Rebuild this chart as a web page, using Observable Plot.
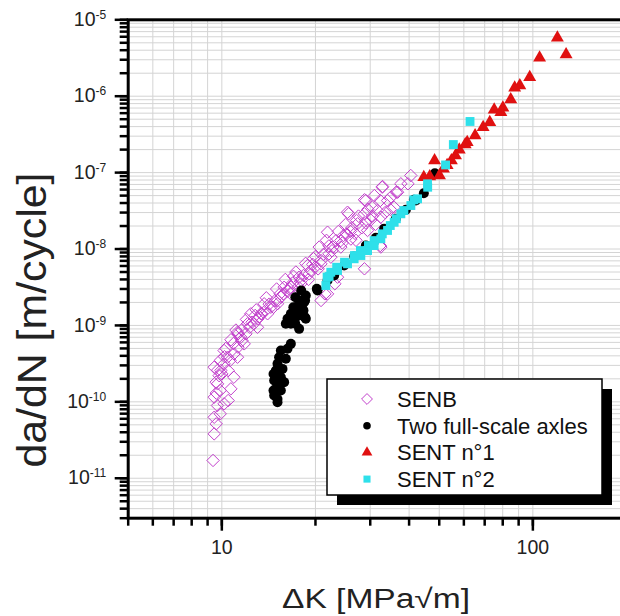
<!DOCTYPE html>
<html>
<head>
<meta charset="utf-8">
<script src="https://cdn.jsdelivr.net/npm/d3@7"></script>
<script src="https://cdn.jsdelivr.net/npm/@observablehq/plot@0.6"></script>
<style>
  html, body { margin: 0; padding: 0; background: #fff; }
  #chart { width: 620px; height: 616px; overflow: hidden; }
  svg { font-family: "Liberation Sans", Arial, sans-serif; }
</style>
</head>
<body>
<div id="chart"></div>
<script>
// ---- Data (ΔK in MPa√m, da/dN in m/cycle) ----
const senbK = [9.37,9.45,9.59,9.45,9.88,9.68,10.17,10.48,9.45,9.88,9.59,10.0,10.48,10.17,10.63,10.94,11.27,11.60,11.27,11.95,12.30,12.67,13.05,13.44,13.83,14.66,15.10,15.78,16.48,18.0,19.08,19.94,20.84,22.10,22.75,24.12,25.19,25.56,27.11,28.74,30.47,32.31,28.74,32.31,20.84,21.45,23.09,40.50,39.67,36.36,32.79,30.93,28.74,37.64,32.86,29.04,25.36,21.87,20.56,18.86,17.72,15.86,13.68,12.39,11.23,10.17,9.45,36.73,35.81,32.45,32.45,23.55,21.87,16.67,15.10,14.03,13.02,11.80,11.23,10.93,10.69,25.9,27.31,29.41,31.67,34.10,24.13,22.42,20.82,19.33,17.95,16.67,15.48,14.37,13.35,12.09,11.51,10.43,9.93,9.69,27.0,30.1,26.2,23.3,22.1,20.0,18.6,17.3,16.0,15.0,13.9,12.9,12.0,11.1,10.7,10.3,9.9,9.8,34.8,29.5,26.8,24.6,19.7,17.0,
  12.5,13.2,14.2,14.8,15.4,16.3,16.9,17.6,18.3,19.0,19.6,20.4,21.2,21.7,22.6,23.7,24.4,25.0,26.0,27.5,28.2,29.0,30.5,31.2,33.5,35.0,11.6,12.8,10.9,10.2,9.7,9.6];
const senbRate = [1.71e-11,3.81e-11,5.15e-11,6.28e-11,6.97e-11,8.95e-11,9.42e-11,1.04e-10,1.15e-10,1.41e-10,1.81e-10,2.32e-10,2.57e-10,3.14e-10,3.48e-10,4.25e-10,5.19e-10,6.34e-10,7.76e-10,7.76e-10,9.46e-10,1.05e-9,1.22e-9,1.42e-9,1.57e-9,1.73e-9,2.12e-9,2.59e-9,3.01e-9,3.87e-9,4.73e-9,5.78e-9,7.07e-9,8.65e-9,1.06e-8,1.29e-8,1.58e-8,2.89e-8,2.36e-8,2.89e-8,3.52e-8,4.31e-8,5.51e-9,1.11e-8,2.12e-9,2.59e-9,3.51e-9,9.17e-8,7.14e-8,5.54e-8,6.44e-8,5.01e-8,4.41e-8,7.14e-8,6.58e-8,4.31e-8,3.03e-8,1.66e-8,1.06e-8,6.08e-9,4.28e-9,3.16e-9,1.92e-9,1.42e-9,8.15e-10,4.69e-10,2.84e-10,5.54e-8,3.52e-8,2.61e-8,1.06e-8,4.28e-9,2.59e-9,2.59e-9,1.92e-9,1.42e-9,9.46e-10,5.74e-10,3.84e-10,2.10e-10,1.48e-10,1.7e-8,2.14e-8,1.75e-8,3.19e-8,4.31e-8,1.06e-8,7.82e-9,6.40e-9,5.24e-9,3.51e-9,3.16e-9,2.34e-9,1.73e-9,1.42e-9,1.05e-9,7.02e-10,3.84e-10,2.57e-10,1.72e-10,1.3e-8,2.4e-8,1.9e-8,1.29e-8,1.1e-8,8.0e-9,6.5e-9,5.0e-9,4.0e-9,3.0e-9,2.3e-9,1.6e-9,1.2e-9,8.7e-10,6.5e-10,5.0e-10,3.5e-10,2.2e-10,3.3e-8,3.3e-8,1.6e-8,1.5e-8,7.5e-9,4.4e-9,
  1.1e-9,1.3e-9,1.9e-9,2.1e-9,2.6e-9,2.8e-9,3.6e-9,3.2e-9,4.5e-9,4.0e-9,6.3e-9,5.5e-9,8.5e-9,1.3e-8,9.5e-9,1.7e-8,1.2e-8,2.1e-8,1.35e-8,2.7e-8,1.9e-8,2.2e-8,2.7e-8,2.1e-8,3.0e-8,4.8e-8,8.8e-10,1.35e-9,5.8e-10,3.9e-10,2.6e-10,1.3e-10];

const axlesK = [48.4,44.61,41.44,42.06,39.06,36.27,33.25,31.27,29.04,26.63,24.73,22.97,21.87,20.31,20.2,18.62,18.39,17.72,17.30,18.17,16.67,17.51,18.62,16.26,17.08,17.72,16.06,16.67,18.0,17.23,18.52,16.98,18.3,16.7,17.73,16.26,17.23,18.52,16.67,16.26,15.48,15.28,16.06,15.10,15.67,14.92,15.48,14.73,15.86,14.92,15.48,14.73,14.66,15.10,14.66,15.10,15.10];
const axlesRate = [9.82e-8,5.37e-8,4.41e-8,4.31e-8,3.26e-8,2.49e-8,1.84e-8,1.40e-8,1.11e-8,7.98e-9,6.08e-9,4.50e-9,3.87e-9,2.86e-9,3.01e-9,2.46e-9,2.01e-9,2.12e-9,1.73e-9,1.65e-9,1.42e-9,1.42e-9,1.22e-9,1.22e-9,1.16e-9,9.02e-10,1.05e-9,1.05e-9,2.86e-9,2.34e-9,2.12e-9,1.73e-9,1.57e-9,1.35e-9,1.35e-9,1.10e-9,1.05e-9,1.28e-9,5.74e-10,4.94e-10,4.69e-10,3.84e-10,3.66e-10,3.14e-10,2.70e-10,2.57e-10,2.10e-10,1.90e-10,1.81e-10,1.48e-10,1.41e-10,1.21e-10,2.32e-10,1.81e-10,1.41e-10,1.09e-10,9.89e-11];

const sent1K = [119.9,127.9,105.1,97.7,90.8,87.4,84.9,80.1,78.9,75.1,72.7,69.2,65.2,61.5,60.6,58.0,56.4,54.7,51.6,48.3,46.6,44.6,50.1,53.0];
const sent1Rate = [5.81e-6,3.51e-6,3.18e-6,1.77e-6,1.38e-6,1.29e-6,9.06e-7,7.05e-7,6.17e-7,6.64e-7,4.57e-7,3.93e-7,3.06e-7,2.50e-7,2.33e-7,1.99e-7,1.67e-7,1.44e-7,1.12e-7,1.44e-7,8.89e-8,8.7e-8,9.17e-8,1.25e-7];

const sent2K = [62.8,55.5,52.4,45.9,41.4,38.5,36.4,34.8,32.8,30.9,29.6,27.9,26.7,24.8,23.4,22.4,21.8,21.6,22.13,23.55,25.36,26.63,27.99,29.41,30.88,32.45,34.10,35.81,37.64,40.53,42.59,45.85];
const sent2Rate = [4.67e-7,2.33e-7,1.26e-7,6.44e-8,4.4e-8,3.19e-8,2.49e-8,2.03e-8,1.58e-8,1.29e-8,1.11e-8,9.55e-9,8.22e-9,6.72e-9,5.78e-9,4.97e-9,4.28e-9,3.33e-9,4.37e-9,5.24e-9,6.40e-9,7.45e-9,8.22e-9,9.55e-9,1.11e-8,1.36e-8,1.75e-8,2.24e-8,2.89e-8,3.71e-8,4.54e-8,7.14e-8];

const seriesNames = ["SENB", "Two full-scale axles", "SENT n°1", "SENT n°2"];
const xTickLabels = [10, 100];
const xMinorTicks = [5,6,7,8,9,10,20,30,40,50,60,70,80,90,100,200];
const yDecades = [1e-11,1e-10,1e-9,1e-8,1e-7,1e-6,1e-5];
const yMinorTicks = [3e-12,4e-12,5e-12,6e-12,7e-12,8e-12,9e-12].concat(
  [-11,-10,-9,-8,-7,-6].flatMap(e => [1,2,3,4,5,6,7,8,9].map(m => +(m + "e" + e))), [1e-5]);
const xTitle = "ΔK [MPa√m]";
const yTitle = "da/dN [m/cycle]";

const colors = {senb: "#c23fcc", axles: "#000000", sent1: "#e01010", sent2: "#2ee0ea"};

const toRows = (K, R) => K.map((k, i) => ({K: k, rate: R[i]}));
const senb = toRows(senbK, senbRate);
const axles = toRows(axlesK, axlesRate);
const sent1 = toRows(sent1K, sent1Rate);
const sent2 = toRows(sent2K, sent2Rate);

const gridColor = "#d4d4d4";
const chart = Plot.plot({
  width: 620,
  height: 616,
  marginLeft: 127.7,
  marginRight: -6,
  marginTop: 19.3,
  marginBottom: 98.3,
  style: {fontFamily: "'Liberation Sans', Arial, sans-serif", background: "#fff", overflow: "hidden"},
  x: {type: "log", domain: [5, 200]},
  y: {type: "log", domain: [3e-12, 1e-5]},
  marks: [
    Plot.gridX(xMinorTicks, {stroke: gridColor, strokeOpacity: 1, strokeWidth: 1}),
    Plot.gridY(yMinorTicks, {stroke: gridColor, strokeOpacity: 1, strokeWidth: 1}),
    Plot.axisX(xMinorTicks, {tickSize: 8, strokeWidth: 2.5, tickFormat: () => "", label: null}),
    Plot.axisX(xTickLabels, {tickSize: 13, tickPadding: 9, strokeWidth: 2.5, fontSize: 19.5, tickFormat: d => String(d), label: null, fill: "#222"}),
    Plot.axisY(yMinorTicks, {tickSize: 8, strokeWidth: 2.5, tickFormat: () => "", label: null}),
    Plot.axisY(yDecades, {tickSize: 13, tickPadding: 9, strokeWidth: 2.5, fontSize: 19.5, fill: "#222",
      tickFormat: d => "10|" + Math.round(Math.log10(d)), label: null}),
    Plot.dot(senb, {x: "K", y: "rate", symbol: "diamond2", r: 5.6, stroke: colors.senb, strokeWidth: 1, fill: "none"}),
    Plot.dot(axles, {x: "K", y: "rate", symbol: "circle", r: 5, fill: colors.axles, stroke: "none"}),
    Plot.dot(sent1, {x: "K", y: "rate", symbol: "triangle", r: 4.8, fill: colors.sent1, stroke: "none"}),
    Plot.dot(sent2, {x: "K", y: "rate", symbol: "square", r: 5, fill: colors.sent2, stroke: "none"}),
    Plot.frame({stroke: "#000", strokeWidth: 3})
  ]
});
document.getElementById("chart").appendChild(chart);

const svg = d3.select(chart);

// superscript y tick labels
svg.selectAll('g[aria-label="y-axis tick label"] text').each(function () {
  const t = d3.select(this);
  const parts = t.text().split("|");
  if (parts.length !== 2) return;
  t.text(null);
  t.append("tspan").text(parts[0]);
  t.append("tspan").attr("font-size", 12).attr("dy", -7).text(parts[1]);
});

// axis titles
svg.append("text")
  .attr("x", 376).attr("y", 608)
  .attr("text-anchor", "middle")
  .attr("font-size", 27)
  .attr("fill", "#222")
  .attr("textLength", 188).attr("lengthAdjust", "spacingAndGlyphs")
  .text(xTitle);
svg.append("text")
  .attr("transform", "translate(46,320) rotate(-90)")
  .attr("text-anchor", "middle")
  .attr("font-size", 40)
  .attr("fill", "#222")
  .attr("textLength", 295).attr("lengthAdjust", "spacingAndGlyphs")
  .text(yTitle);

// legend
const lg = svg.append("g").attr("text-anchor", "start");
lg.append("rect").attr("x", 337).attr("y", 389).attr("width", 275).attr("height", 116).attr("fill", "#000");
lg.append("rect").attr("x", 327).attr("y", 379).attr("width", 275).attr("height", 116)
  .attr("fill", "#fff").attr("stroke", "#000").attr("stroke-width", 1.5);
const legendItems = [
  {sym: d3.symbolDiamond2, size: 75, fill: "none", stroke: colors.senb},
  {sym: d3.symbolCircle, size: 45, fill: colors.axles, stroke: "none"},
  {sym: d3.symbolTriangle, size: 50, fill: colors.sent1, stroke: "none"},
  {sym: d3.symbolSquare, size: 50, fill: colors.sent2, stroke: "none"}
];
legendItems.forEach((it, i) => {
  const cy = 399 + i * 26.7;
  lg.append("path").attr("d", d3.symbol(it.sym, it.size)())
    .attr("transform", `translate(367,${cy})`)
    .attr("fill", it.fill).attr("stroke", it.stroke).attr("stroke-width", 1);
  lg.append("text").attr("x", 397).attr("y", cy).attr("dy", "0.36em")
    .attr("text-anchor", "start")
    .attr("font-size", 22).attr("fill", "#111").text(seriesNames[i]);
});
</script>
</body>
</html>
